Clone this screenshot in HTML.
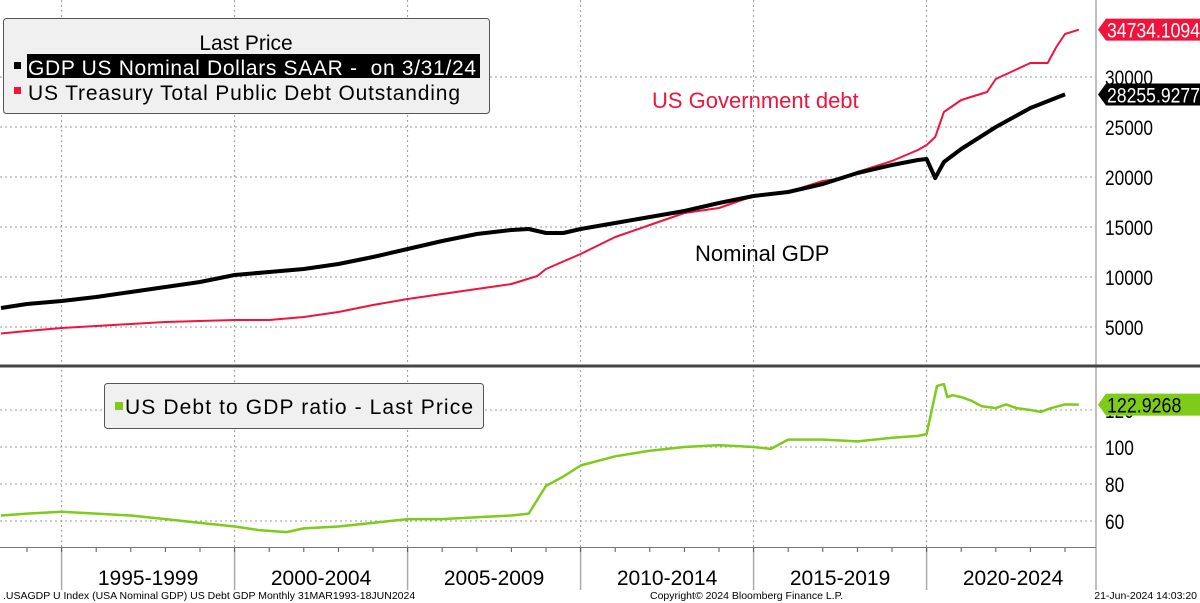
<!DOCTYPE html>
<html><head><meta charset="utf-8"><style>
body{margin:0;background:#fff;}
svg{display:block;font-family:"Liberation Sans","DejaVu Sans",sans-serif;}
</style></head><body>
<svg id="c" width="1200" height="603">
<g id="grid"></g>
<g id="series"></g>
<g id="axes"></g>
<g>
<rect x="3.5" y="18.5" width="486" height="95" rx="3" fill="#f0f0f0" stroke="#555" stroke-width="1"/>
<text x="246" y="50" font-size="21" text-anchor="middle" fill="#000">Last Price</text>
<rect x="14" y="62" width="7" height="7" fill="#000"/>
<rect x="27" y="54" width="453" height="24" fill="#000"/>
<text x="28" y="75" font-size="21" fill="#fff" xml:space="preserve" textLength="448">GDP US Nominal Dollars SAAR -  on 3/31/24</text>
<rect x="14" y="87" width="7" height="7" fill="#f0143c"/>
<text x="28" y="100" font-size="21" fill="#000" textLength="432">US Treasury Total Public Debt Outstanding</text>
</g>
<g>
<rect x="104.5" y="383.5" width="379" height="45" rx="3" fill="#f0f0f0" stroke="#555"/>
<rect x="115" y="402" width="8" height="8" fill="#7ecb1a"/>
<text x="125" y="414" font-size="21" fill="#000" textLength="348">US Debt to GDP ratio - Last Price</text>
</g>
<text x="652" y="108" font-size="22" fill="#f0143c">US Government debt</text>
<text x="695" y="261" font-size="22" fill="#000">Nominal GDP</text>
<text x="3" y="599" font-size="10.5" fill="#000">.USAGDP U Index (USA Nominal GDP) US Debt GDP  Monthly 31MAR1993-18JUN2024</text>
<text x="650" y="599" font-size="10.5" fill="#000">Copyright© 2024 Bloomberg Finance L.P.</text>
<text x="1197" y="599" font-size="10.5" fill="#000" text-anchor="end">21-Jun-2024 14:03:20</text>
</svg>
<script>
const gdpYears=[1993.25,1994,1995,1996,1997,1998,1999,2000,2001,2002,2003,2004,2005,2006,2007,2008,2008.5,2009,2009.5,2010,2011,2012,2013,2014,2015,2016,2017,2018,2019,2019.75,2020,2020.25,2020.5,2021,2022,2023,2024];
const gdpValues=[6900,7300,7600,8000,8500,9000,9500,10200,10500,10800,11300,12000,12800,13600,14300,14700,14800,14400,14400,14800,15400,16000,16600,17400,18100,18500,19300,20400,21200,21700,21800,19900,21500,22800,25000,26900,28256];
const debtYears=[1993.25,1994,1995,1996,1997,1998,1999,2000,2001,2002,2003,2004,2005,2006,2007,2008,2008.75,2009,2010,2011,2012,2013,2014,2015,2016,2017,2017.5,2018,2019,2019.75,2020,2020.25,2020.5,2021,2021.75,2022,2023,2023.5,2023.75,2024,2024.4];
const debtValues=[4350,4600,4900,5100,5300,5500,5600,5700,5700,6000,6500,7200,7800,8300,8800,9300,10100,10800,12300,14000,15200,16400,16900,18100,18500,19600,19850,20500,21600,22700,23200,24000,26500,27700,28500,29800,31400,31400,33000,34300,34734];
const ratioYears=[1993.25,1994,1995,1996,1997,1998,1999,2000,2000.75,2001.5,2002,2003,2004,2005,2006,2007,2008,2008.5,2009,2009.5,2010,2011,2012,2013,2014,2015,2015.5,2016,2017,2018,2019,2019.75,2020,2020.3,2020.5,2020.6,2020.75,2021,2021.3,2021.6,2022,2022.3,2022.6,2023,2023.3,2023.6,2024,2024.4];
const ratioValues=[63,64,65,64,63,61,59,57,55,54,56,57,59,61,61,62,63,64,79,84,90,95,98,100,101,100,99,104,104,103,105,106,107,133,134,127,128,127,125,122,121,123,121,120,119,121,123,122.9];
const upperTicks=[5000,10000,15000,20000,25000,30000];
const lowerTicks=[60,80,100,120];
const periodLabels=["1995-1999","2000-2004","2005-2009","2010-2014","2015-2019","2020-2024"];
const periodStarts=[1995,2000,2005,2010,2015,2020];

const NS="http://www.w3.org/2000/svg";
const X0=1993.22, PXY=34.6;
const xs=t=>(t-X0)*PXY;
const yU=v=>377-v*0.01;
const yL=v=>447-(v-100)*1.85;
const PR=1096;
function mk(tag,attrs,parent){const e=document.createElementNS(NS,tag);for(const k in attrs)e.setAttribute(k,attrs[k]);parent.appendChild(e);return e;}
const grid=document.getElementById('grid'),series=document.getElementById('series'),axes=document.getElementById('axes');

upperTicks.forEach(v=>{
  const l=mk('line',{x1:0,x2:PR,y1:yU(v),y2:yU(v),stroke:'#999','stroke-dasharray':'2,3'},grid);
  
  
  const t=mk('text',{x:1105,y:yU(v)+8,'font-size':21,fill:'#000',textLength:String(v).length*9.6,lengthAdjust:'spacingAndGlyphs'},axes);t.textContent=v;
  
  
});
lowerTicks.forEach(v=>{
  const l=mk('line',{x1:0,x2:PR,y1:yL(v),y2:yL(v),stroke:'#999','stroke-dasharray':'2,3'},grid);
  
  
  const t=mk('text',{x:1105,y:yL(v)+8,'font-size':21,fill:'#000',textLength:String(v).length*9.6,lengthAdjust:'spacingAndGlyphs'},axes);t.textContent=v;
  
  
});
periodStarts.forEach((y,i)=>{
  const x=xs(y);
  const g=mk('line',{x1:x,x2:x,y1:0,y2:547,stroke:'#999','stroke-dasharray':'2,3'},grid);
  
  
  const s=mk('line',{x1:x,x2:x,y1:547,y2:590,stroke:'#aaa','stroke-width':1.5},axes);
  
  
  for(let k=0;k<5;k++){const tx=xs(y+k);mk('line',{x1:tx,x2:tx,y1:547,y2:552,stroke:'#555'},axes);}
  const t=mk('text',{x:x+86.5,y:585,'font-size':21,'text-anchor':'middle',fill:'#000'},axes);t.textContent=periodLabels[i];
  
  
});
mk('line',{x1:xs(1994),x2:xs(1994),y1:547,y2:552,stroke:'#555'},axes);
mk('line',{x1:PR,x2:PR,y1:0,y2:590,stroke:'#aaa','stroke-width':1.5},axes);
mk('line',{x1:0,x2:1200,y1:366,y2:366,stroke:'#444','stroke-width':3},axes);
mk('line',{x1:0,x2:PR,y1:547.5,y2:547.5,stroke:'#777','stroke-width':1},axes);

function path(xa,va,yf,color,w,name){
  const d=xa.map((t,i)=>(i?'L':'M')+xs(t).toFixed(1)+','+yf(va[i]).toFixed(1)).join('');
  const p=mk('path',{d:d,fill:'none',stroke:color,'stroke-width':w,'stroke-linejoin':'round'},series);
  
  
}
path(debtYears,debtValues,yU,'#f0143c',2,'debt-line');
path(gdpYears,gdpValues,yU,'#000',4,'gdp-line');
path(ratioYears,ratioValues,yL,'#7ecb1a',2.5,'ratio-line');

function tag(y,txt,bg,fg,name){
  const g=mk('g',{},axes);
  
  
  mk('polygon',{points:`1098,${y} 1106,${y-11} 1200,${y-11} 1200,${y+11} 1106,${y+11}`,fill:bg},g);
  const t=mk('text',{x:1107,y:y+8,'font-size':21,fill:fg,textLength:txt.length*9.3,lengthAdjust:'spacingAndGlyphs'},g);t.textContent=txt;
}
tag(yU(debtValues[debtValues.length-1]),'34734.1094','#f0143c','#fff','debt-last-value');
tag(yU(gdpValues[gdpValues.length-1]),'28255.9277','#000','#fff','gdp-last-value');
tag(yL(ratioValues[ratioValues.length-1]),'122.9268','#7ecb1a','#000','ratio-last-value');
</script>
</body></html>
